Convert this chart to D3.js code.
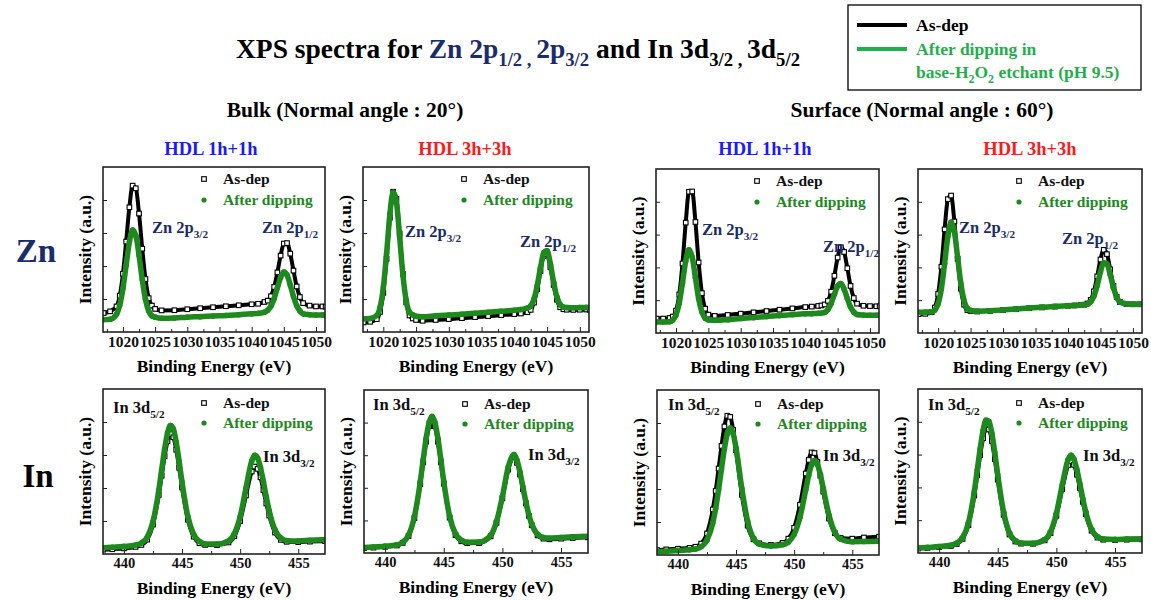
<!DOCTYPE html>
<html><head><meta charset="utf-8">
<script src="https://cdn.jsdelivr.net/npm/d3@7"></script>
<style>
body{margin:0;background:#fff;}
svg text{font-family:"Liberation Serif","DejaVu Serif",serif !important;font-weight:bold;}
</style></head><body>
<svg id="chart" width="1151" height="600" font-family="Liberation Serif" font-weight="bold"></svg>
<script>
// ---------------- DATA ----------------
const znEnergy = [1017,1018,1019,1019.5,1020,1020.5,1021,1021.5,1022,1022.5,1023,1023.5,1024,1024.5,1025,1026,1028,1030,1032,1034,1036,1038,1040,1041,1042,1042.5,1043,1043.5,1044,1044.5,1045,1045.5,1046,1046.5,1047,1047.5,1048,1049,1050,1051,1051.5];
const inEnergy = [438.2,439,440,441,441.5,442,442.5,443,443.25,443.5,443.75,444,444.25,444.5,444.75,445,445.5,446,446.5,447,448,449,449.5,450,450.5,451,451.25,451.5,451.75,452,452.25,452.5,453,453.5,454,455,456,457.3];

// Zn 2p, Bulk, HDL 1h+1h
const znBulk1AsDep = [.115,.125,.155,.22,.353,.548,.756,.887,.871,.718,.505,.321,.205,.16,.14,.131,.132,.138,.144,.15,.156,.162,.168,.171,.182,.19,.217,.273,.361,.463,.536,.539,.475,.372,.276,.212,.175,.16,.155,.155,.153];
const znBulk1Dip   = [.075,.077,.108,.163,.264,.405,.545,.618,.585,.465,.318,.198,.128,.098,.09,.083,.085,.09,.093,.097,.1,.105,.11,.113,.12,.132,.157,.203,.268,.331,.364,.345,.285,.215,.16,.127,.11,.105,.103,.103,.102];
// Zn 2p, Bulk, HDL 3h+3h
const znBulk3AsDep = [.058,.062,.078,.122,.237,.444,.692,.85,.807,.596,.352,.18,.1,.082,.073,.068,.073,.078,.084,.09,.096,.102,.108,.112,.12,.134,.178,.26,.37,.46,.47,.394,.285,.196,.15,.138,.135,.134,.135,.136,.135];
const znBulk3Dip   = [.08,.082,.1,.149,.268,.476,.713,.847,.788,.574,.343,.19,.12,.104,.095,.092,.098,.103,.108,.114,.12,.126,.132,.136,.145,.159,.2,.281,.392,.482,.492,.414,.302,.213,.166,.151,.148,.147,.148,.149,.148];
// Zn 2p, Surface, HDL 1h+1h
const znSurf1AsDep = [.088,.088,.092,.1,.136,.235,.424,.673,.861,.863,.677,.43,.243,.148,.112,.104,.11,.118,.126,.134,.142,.15,.158,.161,.165,.168,.174,.196,.252,.349,.46,.523,.494,.395,.287,.213,.179,.166,.164,.163,.163];
const znSurf1Dip   = [.067,.067,.069,.079,.11,.183,.306,.439,.507,.462,.337,.209,.128,.09,.08,.077,.081,.088,.094,.1,.106,.112,.117,.118,.12,.122,.126,.143,.181,.236,.287,.302,.268,.21,.158,.127,.113,.109,.108,.108,.108];
// Zn 2p, Surface, HDL 3h+3h
const znSurf3AsDep = [.115,.117,.127,.155,.238,.404,.632,.816,.838,.68,.452,.27,.173,.14,.134,.131,.135,.14,.145,.151,.156,.161,.166,.168,.171,.173,.18,.202,.254,.345,.448,.507,.481,.388,.288,.22,.189,.177,.175,.175,.176];
const znSurf3Dip   = [.126,.127,.129,.14,.178,.27,.424,.59,.676,.619,.462,.302,.197,.15,.138,.133,.136,.141,.146,.152,.157,.162,.166,.168,.171,.172,.177,.19,.226,.29,.372,.428,.421,.357,.277,.218,.189,.178,.175,.176,.176];

// In 3d, Bulk, HDL 1h+1h
const inBulk1AsDep = [.026,.029,.034,.043,.055,.087,.178,.358,.475,.592,.684,.727,.708,.632,.523,.404,.208,.105,.065,.055,.054,.07,.108,.2,.355,.5,.53,.516,.465,.388,.306,.233,.13,.086,.074,.072,.075,.078];
const inBulk1Dip   = [.038,.041,.046,.054,.067,.101,.197,.386,.511,.635,.733,.779,.758,.678,.562,.436,.228,.119,.076,.061,.06,.079,.123,.226,.4,.564,.598,.582,.524,.438,.345,.262,.146,.096,.081,.079,.083,.087];
// In 3d, Bulk, HDL 3h+3h
const inBulk3AsDep = [.03,.033,.038,.046,.062,.104,.214,.422,.556,.683,.778,.814,.778,.683,.556,.425,.217,.11,.072,.06,.061,.102,.185,.335,.512,.588,.553,.482,.392,.304,.228,.17,.108,.088,.084,.088,.092,.096];
const inBulk3Dip   = [.034,.037,.042,.05,.066,.11,.224,.438,.574,.704,.801,.838,.801,.704,.574,.44,.226,.118,.078,.066,.067,.109,.193,.346,.527,.604,.569,.497,.405,.315,.237,.178,.115,.095,.091,.095,.099,.103];
// In 3d, Surface, HDL 1h+1h
const inSurf1AsDep = [.03,.034,.038,.043,.05,.069,.13,.276,.388,.524,.661,.779,.844,.837,.758,.635,.365,.178,.095,.071,.061,.073,.099,.165,.304,.494,.576,.622,.618,.564,.481,.385,.221,.132,.103,.099,.106,.111];
const inSurf1Dip   = [.021,.023,.027,.032,.036,.05,.09,.195,.283,.396,.523,.644,.735,.77,.737,.648,.402,.204,.101,.066,.054,.062,.078,.125,.228,.396,.483,.547,.572,.549,.488,.405,.241,.138,.096,.081,.082,.084];
// In 3d, Surface, HDL 3h+3h
const inSurf3AsDep = [.027,.031,.036,.043,.055,.086,.17,.35,.473,.596,.7,.76,.753,.683,.572,.447,.233,.113,.07,.057,.056,.077,.121,.227,.39,.536,.561,.538,.478,.397,.312,.237,.136,.094,.081,.079,.081,.083];
const inSurf3Dip   = [.03,.034,.039,.047,.06,.093,.184,.374,.505,.636,.747,.81,.803,.728,.611,.477,.249,.121,.075,.06,.059,.081,.129,.242,.415,.57,.596,.572,.508,.422,.332,.252,.144,.099,.085,.083,.085,.087];

const znTicks = [1020,1025,1030,1035,1040,1045,1050];
const znMinorTicks = [1017.5,1022.5,1027.5,1032.5,1037.5,1042.5,1047.5];
const inTicks = [440,445,450,455];
const inMinorTicks = [442.5,447.5,452.5];
const znDomain = [1016.9,1051.4];
const inDomain = [438.2,457.3];

const seriesNames = ["As-dep","After dipping"];
const groupTitles = ["Bulk (Normal angle : 20°)","Surface (Normal angle : 60°)"];
const sampleNames = ["HDL 1h+1h","HDL 3h+3h","HDL 1h+1h","HDL 3h+3h"];
const rowNames = ["Zn","In"];
const xTitle = "Binding Energy (eV)";
const yTitle = "Intensity (a.u.)";

// ---------------- STYLE / LAYOUT ----------------
const FONT = "'Liberation Serif','DejaVu Serif',serif";
const NAVY = "#1b2c6b", GREEN = "#1e8a1e", LGREEN = "#1faf4b";
const sampleColors = ["#1a1aff","#ff1a1a","#1a1aff","#ff1a1a"];
const svg = d3.select("#chart");

function txt(sel, x, y, s, size, fill, anchor){
  return sel.append("text").attr("x",x).attr("y",y).attr("font-size",size).attr("font-family",FONT)
    .attr("font-weight","bold").attr("fill",fill||"#000").attr("text-anchor",anchor||"start").text(s);
}
function rich(sel, x, y, parts, size, fill, anchor){
  const t = sel.append("text").attr("x",x).attr("y",y).attr("font-size",size).attr("font-family",FONT)
    .attr("font-weight","bold").attr("fill",fill).attr("text-anchor",anchor||"start");
  let down = false;
  const off = size*0.28;
  parts.forEach(p=>{
    const ts = t.append("tspan").text(p.t);
    if(p.fill) ts.attr("fill",p.fill);
    if(p.sub){ ts.attr("font-size",size*0.68); if(!down){ts.attr("dy",off); down=true;} }
    else if(down){ ts.attr("dy",-off); down=false; }
  });
  return t;
}

// Title
rich(svg, 518, 58, [
  {t:"XPS spectra for "},
  {t:"Zn 2p", fill:NAVY},{t:"1/2 , ", sub:true, fill:NAVY},
  {t:"2p", fill:NAVY},{t:"3/2", sub:true, fill:NAVY},
  {t:" and In 3d"},{t:"3/2 , ", sub:true},{t:"3d"},{t:"5/2", sub:true}
], 27.5, "#000", "middle");

// Group titles
txt(svg, 345, 117, groupTitles[0], 21.5, "#000", "middle");
txt(svg, 922, 117, groupTitles[1], 21.5, "#000", "middle");

// Row labels
txt(svg, 36, 262, rowNames[0], 33, NAVY, "middle");
txt(svg, 38, 487, rowNames[1], 33, "#000", "middle");

// Top-right legend
const lg = svg.append("g");
lg.append("rect").attr("x",848).attr("y",5).attr("width",293).attr("height",85).attr("fill","#fff").attr("stroke","#000").attr("stroke-width",1.3);
lg.append("line").attr("x1",857).attr("x2",907).attr("y1",25).attr("y2",25).attr("stroke","#000").attr("stroke-width",4);
lg.append("line").attr("x1",857).attr("x2",907).attr("y1",49).attr("y2",49).attr("stroke",LGREEN).attr("stroke-width",4);
txt(lg, 916, 31, seriesNames[0], 17.5, "#000");
txt(lg, 916, 55, "After dipping in", 17.5, LGREEN);
rich(lg, 916, 78, [{t:"base-H"},{t:"2",sub:true},{t:"O"},{t:"2",sub:true},{t:" etchant (pH 9.5)"}], 17.5, LGREEN);

// Panels
const panels = [
 {row:0,col:0,f:[103,167,222,165],a:znBulk1AsDep,d:znBulk1Dip,lab:[[49,66],[159,66]]},
 {row:0,col:1,f:[363,167,226,165],a:znBulk3AsDep,d:znBulk3Dip,lab:[[42,70],[157,80]]},
 {row:0,col:2,f:[656,169,223,164],a:znSurf1AsDep,d:znSurf1Dip,lab:[[46,66],[167,83]]},
 {row:0,col:3,f:[918,169,224,164],a:znSurf3AsDep,d:znSurf3Dip,lab:[[41,64],[144,75]]},
 {row:1,col:0,f:[103,389,222,165],a:inBulk1AsDep,d:inBulk1Dip,lab:[[10,24],[160,73]]},
 {row:1,col:1,f:[364,390,224,163],a:inBulk3AsDep,d:inBulk3Dip,lab:[[9,20],[164,70]]},
 {row:1,col:2,f:[657,390,222,165],a:inSurf1AsDep,d:inSurf1Dip,lab:[[11,20],[166,71]]},
 {row:1,col:3,f:[918,389,224,164],a:inSurf3AsDep,d:inSurf3Dip,lab:[[10,21],[165,72]]}
];

// sample titles
const sampleX = [211,465,765,1030];
sampleNames.forEach((s,i)=> txt(svg, sampleX[i], 155, s, 18.5, sampleColors[i], "middle"));

panels.forEach((p,pi)=>{
  const [fx,fy,fw,fh] = p.f;
  const isZn = p.row===0;
  const energy = isZn ? znEnergy : inEnergy;
  const x = d3.scaleLinear().domain(isZn?znDomain:inDomain).range([0,fw]);
  const y = d3.scaleLinear().domain([0,1]).range([fh,0]);
  const g = svg.append("g").attr("transform",`translate(${fx},${fy})`);
  const cid = "clip"+pi;
  g.append("clipPath").attr("id",cid).append("rect").attr("width",fw).attr("height",fh);

  const plot = g.append("g").attr("clip-path",`url(#${cid})`);
  const line = d3.line().x((v,i)=>x(energy[i])).y(v=>y(v)).curve(d3.curveMonotoneX);
  // As-dep
  plot.append("path").attr("d",line(p.a)).attr("fill","none").attr("stroke","#000").attr("stroke-width",4);
  plot.selectAll(".sq").data(p.a).enter().append("rect").attr("class","sq")
    .attr("x",(v,i)=>x(energy[i])-2.3).attr("y",v=>y(v)-2.3).attr("width",4.6).attr("height",4.6)
    .attr("fill","#fff").attr("stroke","#000").attr("stroke-width",1.1);
  // After dipping
  plot.append("path").attr("d",line(p.d)).attr("fill","none").attr("stroke",GREEN).attr("stroke-width",5.5);
  plot.selectAll(".ci").data(p.d).enter().append("circle").attr("class","ci")
    .attr("cx",(v,i)=>x(energy[i])).attr("cy",v=>y(v)).attr("r",2.8).attr("fill",GREEN);

  // axes
  const ax = d3.axisBottom(x).tickValues(isZn?znTicks:inTicks).tickSizeInner(-5).tickSizeOuter(0).tickPadding(4).tickFormat(d3.format("d"));
  const axg = g.append("g").attr("transform",`translate(0,${fh})`).call(ax);
  axg.attr("font-family",FONT).attr("font-weight","bold");
  axg.select(".domain").remove();
  axg.selectAll("text").attr("font-size",isZn?15.5:14.5).attr("font-family",FONT).attr("font-weight","bold").attr("fill","#111");
  axg.selectAll("line").attr("stroke","#222");
  const axm = d3.axisBottom(x).tickValues(isZn?znMinorTicks:inMinorTicks).tickSizeInner(-3).tickSizeOuter(0).tickFormat("");
  const axmg = g.append("g").attr("transform",`translate(0,${fh})`).call(axm);
  axmg.select(".domain").remove(); axmg.selectAll("line").attr("stroke","#222");
  const ay = d3.axisLeft(y).tickValues([0.2,0.4,0.6,0.8]).tickSizeInner(-4).tickSizeOuter(0).tickFormat("");
  const ayg = g.append("g").call(ay);
  ayg.select(".domain").remove(); ayg.selectAll("line").attr("stroke","#222");

  g.append("rect").attr("width",fw).attr("height",fh).attr("fill","none").attr("stroke","#222").attr("stroke-width",1.6);

  // axis titles
  txt(g, fw/2, fh+40, xTitle, 17.5, "#000", "middle");
  g.append("text").attr("transform",`translate(-12,${fh/2}) rotate(-90)`).attr("font-size",17.5)
    .attr("font-family",FONT).attr("font-weight","bold").attr("text-anchor","middle").text(yTitle);

  // in-panel legend
  const lx = 101, r1 = isZn?12:14, r2 = isZn?33:34;
  g.append("rect").attr("x",lx-2.3).attr("y",r1-2.3).attr("width",4.6).attr("height",4.6).attr("fill","#fff").attr("stroke","#000").attr("stroke-width",1.1);
  g.append("circle").attr("cx",lx).attr("cy",r2).attr("r",2.6).attr("fill",GREEN);
  txt(g, lx+19, r1+5, seriesNames[0], 15.5, "#111");
  txt(g, lx+19, r2+5, seriesNames[1], 15.5, GREEN);

  // peak labels
  if(isZn){
    rich(g, p.lab[0][0], p.lab[0][1], [{t:"Zn 2p"},{t:"3/2",sub:true}], 16.5, NAVY);
    rich(g, p.lab[1][0], p.lab[1][1], [{t:"Zn 2p"},{t:"1/2",sub:true}], 16.5, NAVY);
  } else {
    rich(g, p.lab[0][0], p.lab[0][1], [{t:"In 3d"},{t:"5/2",sub:true}], 16.5, "#111");
    rich(g, p.lab[1][0], p.lab[1][1], [{t:"In 3d"},{t:"3/2",sub:true}], 16.5, "#111");
  }
});
</script>
</body></html>
